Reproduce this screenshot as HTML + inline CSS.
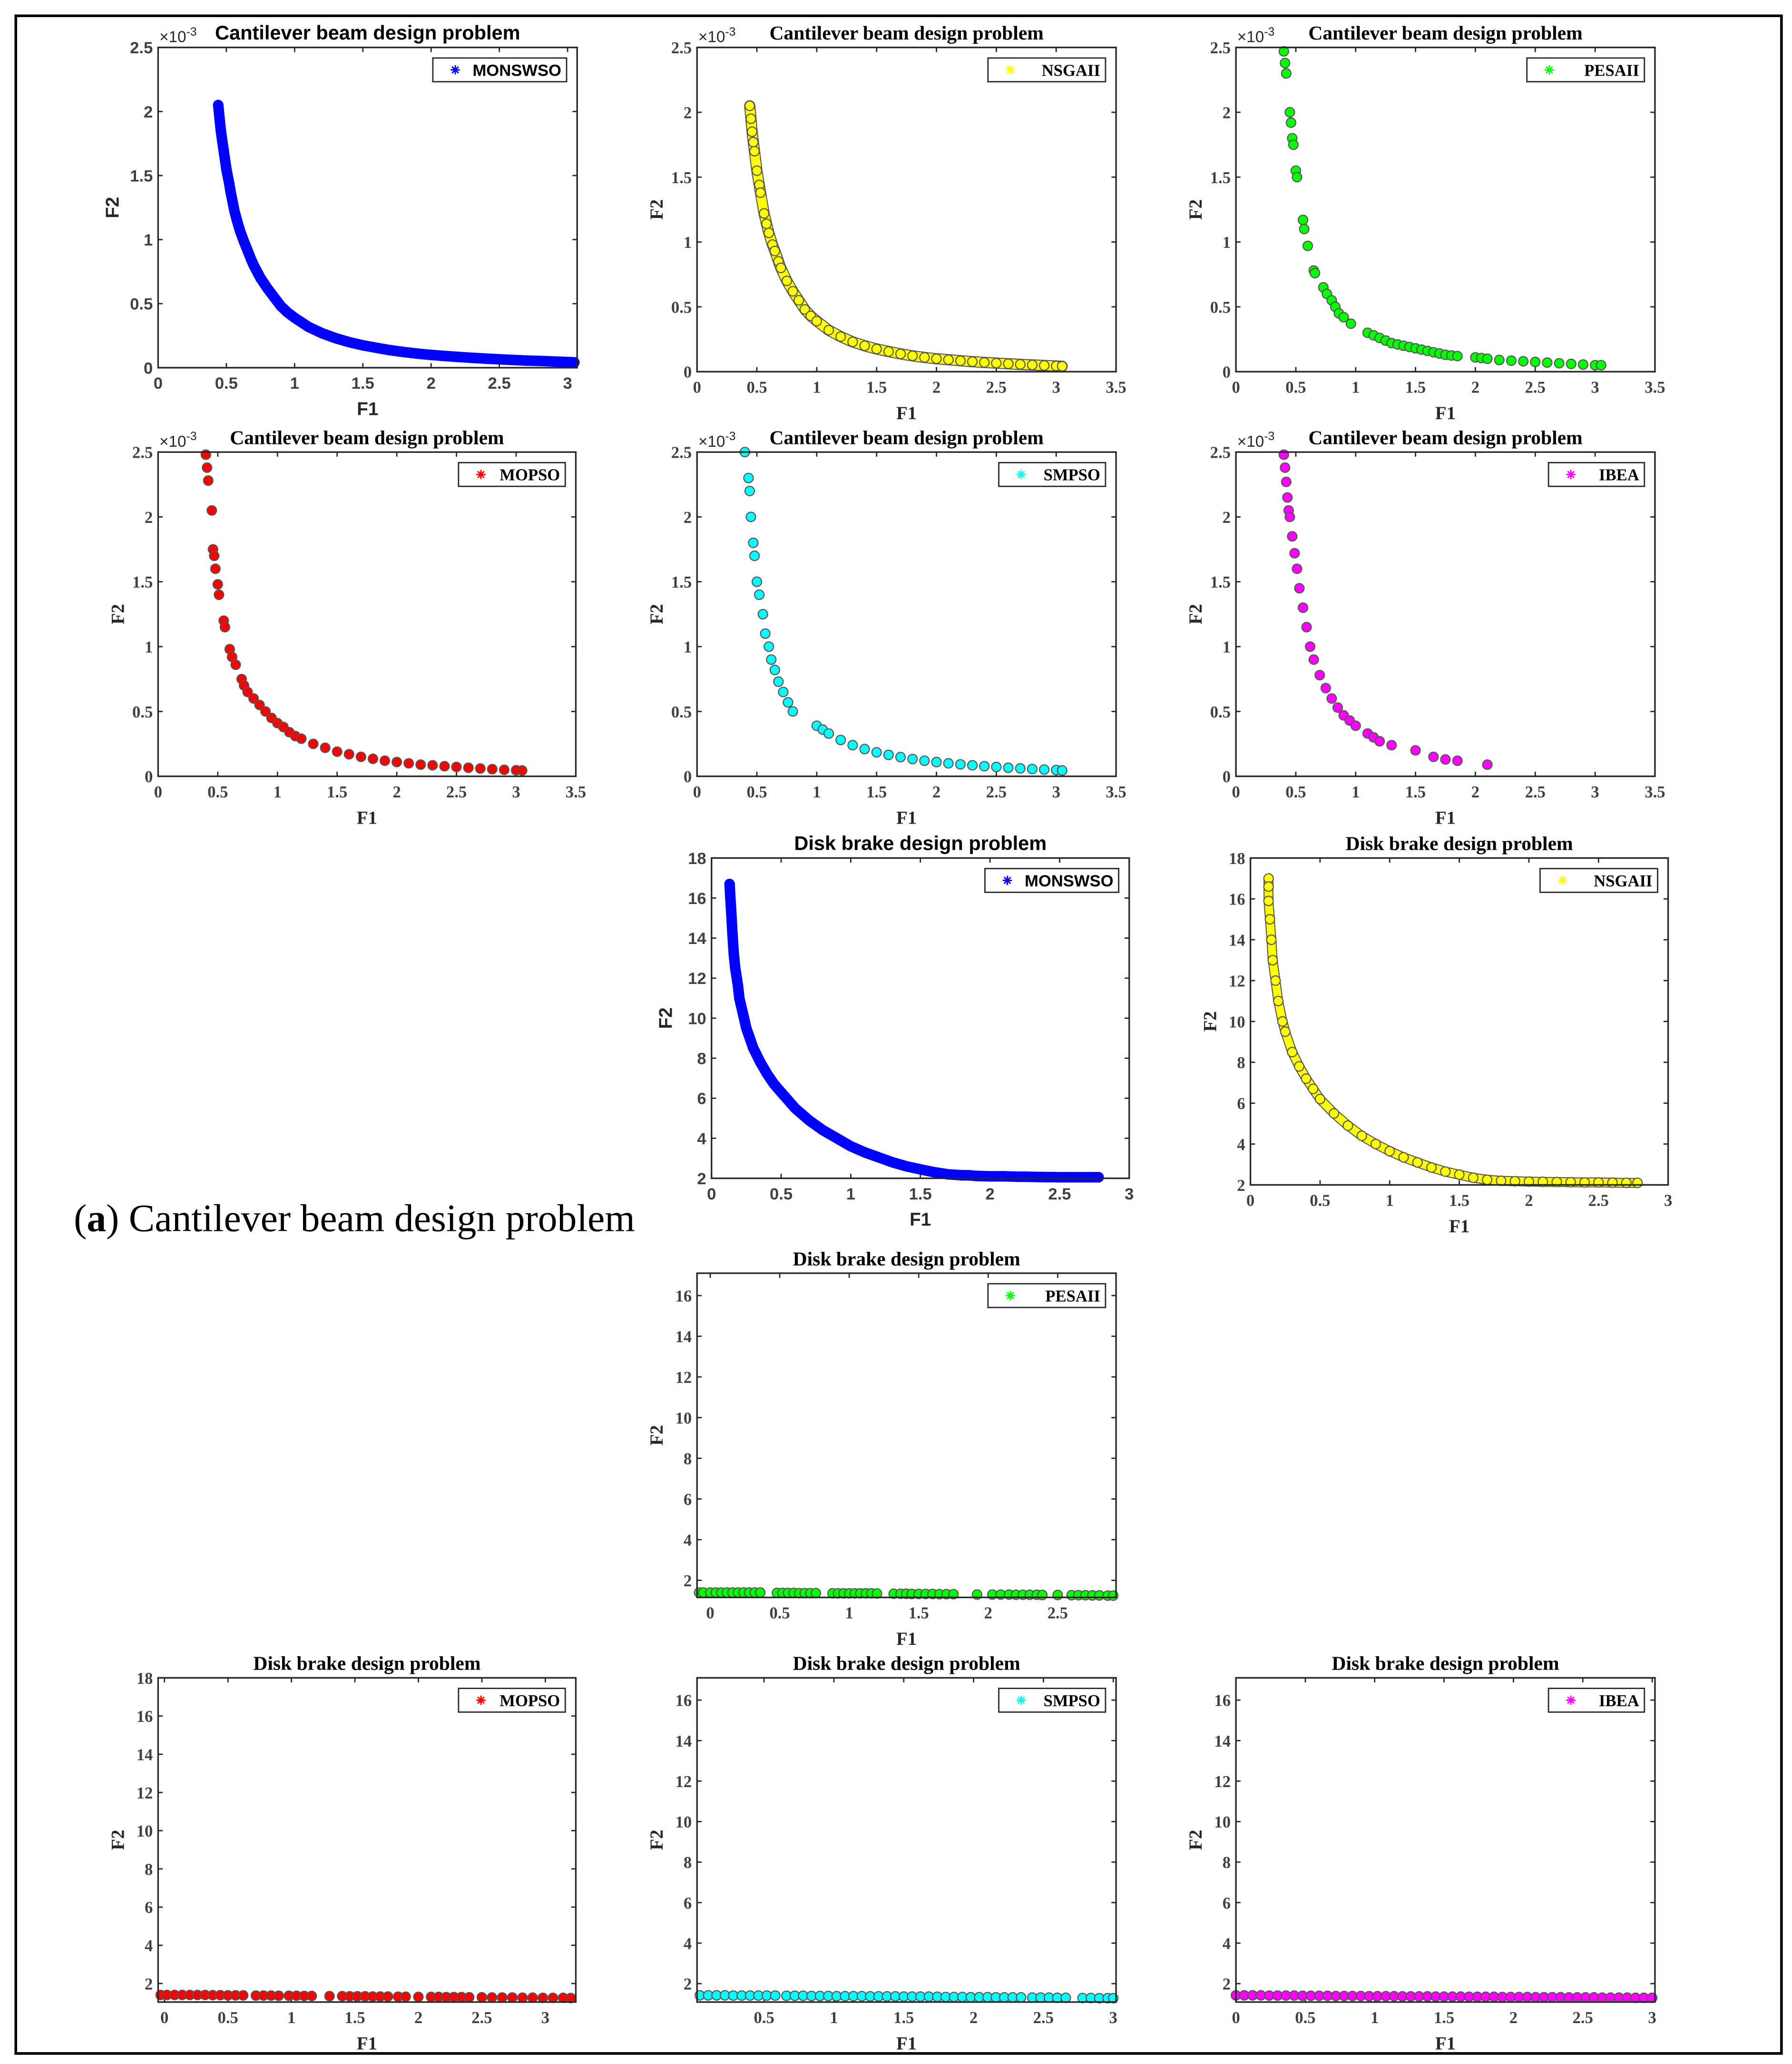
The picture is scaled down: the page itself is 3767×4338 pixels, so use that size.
<!DOCTYPE html>
<html><head><meta charset="utf-8"><style>
html,body{margin:0;padding:0;background:#fff}
svg{display:block}
</style></head><body>
<svg id="fig" width="3767" height="4338" viewBox="0 0 1360 1566" preserveAspectRatio="none" xmlns="http://www.w3.org/2000/svg">
<rect x="0" y="0" width="1360" height="1566" fill="#fff"/>
<rect x="12" y="12" width="1340" height="1546" fill="none" stroke="#000" stroke-width="2"/>
<text x="56" y="934" font-family="'Liberation Serif',serif" font-size="29.5" fill="#000">(<tspan font-weight="bold">a</tspan>) Cantilever beam design problem</text>
<g id="plots"></g>
</svg>
<script>
// ---------- data ----------
const cantF1 = [0.44,0.45,0.46,0.47,0.48,0.5,0.52,0.53,0.56,0.58,0.6,0.63,0.65,0.68,0.7,0.75,0.8,0.85,0.9,0.95,1.0,1.1,1.2,1.3,1.4,1.5,1.6,1.7,1.8,1.9,2.0,2.1,2.2,2.3,2.4,2.5,2.6,2.7,2.8,2.9,3.0,3.05];
const cantF2 = [2.05,1.95,1.85,1.77,1.7,1.55,1.44,1.38,1.22,1.14,1.07,0.98,0.93,0.85,0.8,0.7,0.62,0.55,0.48,0.43,0.39,0.32,0.27,0.23,0.2,0.175,0.155,0.137,0.122,0.11,0.1,0.092,0.084,0.077,0.071,0.066,0.061,0.056,0.052,0.048,0.044,0.042];
const pesaF1 = [0.4,0.41,0.42,0.45,0.46,0.47,0.48,0.5,0.51,0.56,0.57,0.6,0.65,0.66,0.73,0.76,0.8,0.83,0.86,0.9,0.96,1.1,1.15,1.2,1.25,1.3,1.35,1.4,1.45,1.5,1.55,1.6,1.65,1.7,1.75,1.8,1.85,2.0,2.05,2.1,2.2,2.3,2.4,2.5,2.6,2.7,2.8,2.9,3.0,3.05];
const pesaF2 = [2.47,2.38,2.3,2.0,1.92,1.8,1.75,1.55,1.5,1.17,1.1,0.97,0.78,0.76,0.65,0.6,0.55,0.5,0.45,0.42,0.37,0.3,0.28,0.26,0.24,0.22,0.21,0.2,0.19,0.18,0.17,0.16,0.15,0.14,0.13,0.125,0.12,0.11,0.105,0.1,0.09,0.085,0.08,0.075,0.07,0.065,0.06,0.055,0.05,0.05];
const mopsoF1 = [0.4,0.41,0.42,0.45,0.46,0.47,0.48,0.5,0.51,0.55,0.56,0.6,0.62,0.65,0.7,0.72,0.75,0.8,0.85,0.9,0.95,1.0,1.05,1.1,1.15,1.2,1.3,1.4,1.5,1.6,1.7,1.8,1.9,2.0,2.1,2.2,2.3,2.4,2.5,2.6,2.7,2.8,2.9,3.0,3.05];
const mopsoF2 = [2.48,2.38,2.28,2.05,1.75,1.7,1.6,1.48,1.4,1.2,1.15,0.98,0.92,0.86,0.75,0.7,0.65,0.6,0.55,0.5,0.45,0.41,0.38,0.34,0.31,0.29,0.25,0.22,0.19,0.17,0.15,0.135,0.12,0.11,0.1,0.09,0.085,0.078,0.072,0.066,0.06,0.055,0.05,0.047,0.045];
const smpsoF1 = [0.4,0.43,0.44,0.45,0.47,0.48,0.5,0.52,0.55,0.57,0.6,0.62,0.65,0.68,0.72,0.76,0.8,1.0,1.05,1.1,1.2,1.3,1.4,1.5,1.6,1.7,1.8,1.9,2.0,2.1,2.2,2.3,2.4,2.5,2.6,2.7,2.8,2.9,3.0,3.05];
const smpsoF2 = [2.5,2.3,2.2,2.0,1.8,1.7,1.5,1.4,1.25,1.1,1.0,0.9,0.82,0.73,0.65,0.57,0.5,0.39,0.36,0.33,0.28,0.24,0.21,0.185,0.165,0.148,0.133,0.12,0.11,0.1,0.092,0.085,0.078,0.072,0.066,0.061,0.056,0.052,0.048,0.045];
const ibeaF1 = [0.4,0.41,0.42,0.43,0.44,0.45,0.47,0.49,0.51,0.53,0.56,0.59,0.62,0.65,0.7,0.75,0.8,0.85,0.9,0.95,1.0,1.1,1.15,1.2,1.3,1.5,1.65,1.75,1.85,2.1];
const ibeaF2 = [2.48,2.38,2.27,2.15,2.05,2.0,1.85,1.72,1.6,1.45,1.3,1.15,1.0,0.9,0.78,0.68,0.6,0.53,0.47,0.43,0.39,0.33,0.3,0.27,0.24,0.2,0.15,0.13,0.12,0.09];
const diskF1 = [0.13,0.135,0.14,0.15,0.16,0.17,0.19,0.2,0.23,0.25,0.3,0.35,0.4,0.45,0.5,0.6,0.7,0.8,0.9,1.0,1.1,1.2,1.3,1.4,1.5,1.6,1.7,1.8,1.85,1.9,2.0,2.05,2.1,2.2,2.25,2.3,2.4,2.45,2.5,2.55,2.67,2.75,2.78];
const diskF2 = [16.7,16.0,15.5,14.2,13.2,12.5,11.6,11.0,10.1,9.5,8.5,7.8,7.2,6.7,6.3,5.5,4.9,4.4,4.0,3.6,3.3,3.05,2.8,2.6,2.45,2.3,2.2,2.15,2.15,2.12,2.1,2.1,2.1,2.08,2.08,2.07,2.06,2.06,2.05,2.05,2.05,2.05,2.05];
const diskNsgaF1 = [0.13,0.13,0.13,0.14,0.15,0.16,0.18,0.2,0.23,0.25,0.3,0.35,0.4,0.45,0.5,0.6,0.7,0.8,0.9,1.0,1.1,1.2,1.3,1.4,1.5,1.6,1.7,1.8,1.9,2.0,2.1,2.2,2.3,2.4,2.5,2.6,2.7,2.78];
const diskNsgaF2 = [17.0,16.6,15.9,15.0,14.0,13.0,12.0,11.0,10.0,9.5,8.5,7.8,7.2,6.7,6.2,5.5,4.9,4.4,4.0,3.65,3.35,3.1,2.85,2.65,2.5,2.35,2.25,2.2,2.18,2.16,2.15,2.14,2.13,2.12,2.12,2.11,2.1,2.1];
const flatPesaF1 = [-0.08,-0.05,0.0,0.04,0.08,0.12,0.16,0.2,0.24,0.28,0.32,0.36,0.48,0.52,0.56,0.6,0.64,0.68,0.72,0.76,0.88,0.92,0.96,1.0,1.04,1.08,1.12,1.16,1.2,1.32,1.37,1.41,1.45,1.5,1.55,1.6,1.65,1.7,1.75,1.92,2.03,2.09,2.15,2.2,2.25,2.3,2.35,2.39,2.5,2.6,2.65,2.7,2.75,2.8,2.86,2.9];
const flatPesaF2 = [1.4,1.4,1.4,1.4,1.4,1.4,1.4,1.4,1.4,1.4,1.4,1.4,1.38,1.38,1.38,1.38,1.37,1.37,1.37,1.37,1.36,1.36,1.36,1.36,1.36,1.36,1.36,1.36,1.35,1.34,1.34,1.34,1.33,1.33,1.33,1.33,1.32,1.32,1.32,1.3,1.3,1.3,1.3,1.29,1.29,1.29,1.29,1.28,1.28,1.27,1.27,1.27,1.26,1.26,1.25,1.25];
const flatMopsoF1 = [-0.03,0.02,0.08,0.14,0.2,0.26,0.32,0.38,0.44,0.5,0.56,0.62,0.72,0.78,0.84,0.9,0.98,1.04,1.1,1.16,1.3,1.4,1.46,1.52,1.58,1.64,1.7,1.76,1.84,1.9,2.0,2.1,2.16,2.22,2.28,2.34,2.4,2.5,2.58,2.66,2.74,2.82,2.9,2.98,3.06,3.14,3.2];
const flatMopsoF2 = [1.4,1.4,1.4,1.4,1.4,1.4,1.4,1.39,1.39,1.38,1.38,1.38,1.37,1.37,1.37,1.36,1.36,1.36,1.35,1.35,1.34,1.34,1.33,1.33,1.33,1.32,1.32,1.32,1.31,1.31,1.3,1.3,1.3,1.29,1.29,1.29,1.28,1.28,1.27,1.27,1.27,1.26,1.26,1.25,1.25,1.25,1.24];
const flatSmpsoF1 = [0.04,0.1,0.16,0.22,0.28,0.34,0.4,0.46,0.52,0.58,0.66,0.72,0.78,0.84,0.9,0.96,1.02,1.08,1.14,1.2,1.26,1.32,1.38,1.44,1.5,1.56,1.62,1.68,1.74,1.8,1.86,1.92,1.98,2.04,2.1,2.16,2.22,2.28,2.34,2.42,2.48,2.54,2.6,2.66,2.78,2.84,2.9,2.96,3.0];
const flatSmpsoF2 = [1.42,1.42,1.42,1.42,1.41,1.41,1.41,1.41,1.41,1.41,1.4,1.4,1.4,1.39,1.39,1.39,1.38,1.38,1.38,1.38,1.37,1.37,1.37,1.37,1.36,1.36,1.36,1.36,1.35,1.34,1.34,1.34,1.33,1.33,1.33,1.32,1.32,1.32,1.32,1.31,1.31,1.31,1.3,1.3,1.29,1.29,1.28,1.28,1.28];
const flatIbeaF1 = [0.0,0.06,0.12,0.18,0.24,0.3,0.36,0.42,0.48,0.54,0.6,0.66,0.72,0.78,0.84,0.9,0.96,1.02,1.08,1.14,1.2,1.26,1.32,1.38,1.44,1.5,1.56,1.62,1.68,1.74,1.8,1.86,1.92,1.98,2.04,2.1,2.16,2.22,2.28,2.34,2.4,2.46,2.52,2.58,2.64,2.7,2.76,2.82,2.88,2.94,3.0];
const flatIbeaF2 = [1.42,1.42,1.42,1.42,1.41,1.41,1.41,1.41,1.4,1.4,1.4,1.4,1.39,1.39,1.39,1.39,1.38,1.38,1.38,1.38,1.37,1.37,1.37,1.37,1.36,1.36,1.36,1.36,1.35,1.35,1.35,1.35,1.34,1.34,1.34,1.34,1.33,1.33,1.33,1.33,1.32,1.32,1.32,1.32,1.31,1.31,1.31,1.31,1.3,1.3,1.3];
const cantXTicks = [0,0.5,1,1.5,2,2.5,3,3.5];
const cantYTicks = [0,0.5,1,1.5,2,2.5];
const diskXTicks = [0,0.5,1,1.5,2,2.5,3];
const diskYTicks18 = [2,4,6,8,10,12,14,16,18];
const diskYTicks16 = [2,4,6,8,10,12,14,16];

// ---------- layout ----------
const SANS="'Liberation Sans',Arial,sans-serif", SERIF="'Liberation Serif',serif";
const T_C="Cantilever beam design problem", T_D="Disk brake design problem";
const panels = [
 {id:'cant-monswso',b:[120,36,438,279],xl:[0,3.07],yl:[0,2.5],xt:[0,0.5,1,1.5,2,2.5,3],yt:cantYTicks,f:SANS,t:T_C,name:'MONSWSO',c:'#0000ff',x:cantF1,y:cantF2,star:true,exp:true,band:8},
 {id:'cant-nsgaii',b:[529,36,847,282],xl:[0,3.5],yl:[0,2.5],xt:cantXTicks,yt:cantYTicks,f:SERIF,t:T_C,name:'NSGAII',c:'#ffff00',x:cantF1,y:cantF2,exp:true,band:7},
 {id:'cant-pesaii',b:[938,36,1256,282],xl:[0,3.5],yl:[0,2.5],xt:cantXTicks,yt:cantYTicks,f:SERIF,t:T_C,name:'PESAII',c:'#00ff00',x:pesaF1,y:pesaF2,exp:true},
 {id:'cant-mopso',b:[120,343,437,589],xl:[0,3.5],yl:[0,2.5],xt:cantXTicks,yt:cantYTicks,f:SERIF,t:T_C,name:'MOPSO',c:'#ff0000',x:mopsoF1,y:mopsoF2,exp:true},
 {id:'cant-smpso',b:[529,343,847,589],xl:[0,3.5],yl:[0,2.5],xt:cantXTicks,yt:cantYTicks,f:SERIF,t:T_C,name:'SMPSO',c:'#00ffff',x:smpsoF1,y:smpsoF2,exp:true},
 {id:'cant-ibea',b:[938,343,1256,589],xl:[0,3.5],yl:[0,2.5],xt:cantXTicks,yt:cantYTicks,f:SERIF,t:T_C,name:'IBEA',c:'#ff00ff',x:ibeaF1,y:ibeaF2,exp:true},
 {id:'disk-monswso',b:[540,651,857,894],xl:[0,3],yl:[2,18],xt:diskXTicks,yt:diskYTicks18,f:SANS,t:T_D,name:'MONSWSO',c:'#0000ff',x:diskF1,y:diskF2,star:true,band:8},
 {id:'disk-nsgaii',b:[949,651,1266,899],xl:[0,3],yl:[2,18],xt:diskXTicks,yt:diskYTicks18,f:SERIF,t:T_D,name:'NSGAII',c:'#ffff00',x:diskNsgaF1,y:diskNsgaF2,band:6},
 {id:'disk-pesaii',b:[529,966,847,1212],xl:[-0.095,2.92],yl:[1.16,17.1],xt:[0,0.5,1,1.5,2,2.5],yt:diskYTicks16,f:SERIF,t:T_D,name:'PESAII',c:'#00ff00',x:flatPesaF1,y:flatPesaF2},
 {id:'disk-mopso',b:[120,1273,437,1519],xl:[-0.05,3.24],yl:[1.03,18],xt:diskXTicks,yt:diskYTicks18,f:SERIF,t:T_D,name:'MOPSO',c:'#ff0000',x:flatMopsoF1,y:flatMopsoF2},
 {id:'disk-smpso',b:[529,1273,847,1519],xl:[0.02,3.02],yl:[1.09,17.1],xt:[0.5,1,1.5,2,2.5,3],yt:diskYTicks16,f:SERIF,t:T_D,name:'SMPSO',c:'#00ffff',x:flatSmpsoF1,y:flatSmpsoF2},
 {id:'disk-ibea',b:[938,1273,1256,1519],xl:[0,3.02],yl:[1.09,17.1],xt:diskXTicks,yt:diskYTicks16,f:SERIF,t:T_D,name:'IBEA',c:'#ff00ff',x:flatIbeaF1,y:flatIbeaF2}
];
const NS="http://www.w3.org/2000/svg";
const root=document.getElementById('plots');
function mk(tag,attrs,parent){const e=document.createElementNS(NS,tag);for(const k in attrs)e.setAttribute(k,attrs[k]);parent.appendChild(e);return e;}
function fmt(v){return String(v);}
function star(g,x,y,r,c,w){
  const s=mk('path',{d:`M${x-r},${y}H${x+r}M${x},${y-r}V${y+r}M${x-r*0.7},${y-r*0.7}L${x+r*0.7},${y+r*0.7}M${x-r*0.7},${y+r*0.7}L${x+r*0.7},${y-r*0.7}`,stroke:c,'stroke-width':w,fill:'none'},g);
  return s;
}
panels.forEach(p=>{
  const [x0,y0,x1,y1]=p.b;
  const sx=v=>x0+(v-p.xl[0])/(p.xl[1]-p.xl[0])*(x1-x0);
  const sy=v=>y1-(v-p.yl[0])/(p.yl[1]-p.yl[0])*(y1-y0);
  const g=mk('g',{},root);
  
  
  // title
  const tt=mk('text',{x:(x0+x1)/2+(p.exp&&p.f===SANS?0:0),y:y0-6,'text-anchor':'middle','font-family':p.f,'font-weight':'bold','font-size':15,fill:'#000'},g);
  tt.textContent=p.t;
  
  
  if(p.exp){
    const ex=mk('text',{x:x0+1,y:y0-4,'font-family':SANS,'font-size':12,fill:'#262626'},g);
    ex.innerHTML='×10<tspan dy="-5" font-size="9">-3</tspan>';
    
    
  }
  // ticks
  const tickG=mk('g',{stroke:'#262626','stroke-width':1},g);
  p.xt.forEach(v=>{
    const X=sx(v);
    mk('line',{x1:X,y1:y1,x2:X,y2:y1-3.5},tickG);
    mk('line',{x1:X,y1:y0,x2:X,y2:y0+3.5},tickG);
    const t=mk('text',{x:X,y:y1+16,'text-anchor':'middle','font-family':p.f,'font-weight':'bold','font-size':12.5,fill:'#404040',stroke:'none'},g);
    t.textContent=fmt(v);
    
    
  });
  p.yt.forEach(v=>{
    const Y=sy(v);
    mk('line',{x1:x0,y1:Y,x2:x0+3.5,y2:Y},tickG);
    mk('line',{x1:x1,y1:Y,x2:x1-3.5,y2:Y},tickG);
    const t=mk('text',{x:x0-4,y:Y+4.5,'text-anchor':'end','font-family':p.f,'font-weight':'bold','font-size':12.5,fill:'#404040',stroke:'none'},g);
    t.textContent=fmt(v);
    
    
  });
  // axis labels
  const xlab=mk('text',{x:(x0+x1)/2,y:y1+36,'text-anchor':'middle','font-family':p.f,'font-weight':'bold','font-size':14,fill:'#262626'},g);
  xlab.textContent='F1';
  
  
  const yX=x0-(p.f===SANS?30:26), yY=(y0+y1)/2;
  const ylab=mk('text',{x:yX,y:yY,'text-anchor':'middle','font-family':p.f,'font-weight':'bold','font-size':14,fill:'#262626',transform:`rotate(-90 ${yX} ${yY})`},g);
  ylab.textContent='F2';
  
  
  // data
  const clip='clip-'+p.id;
  const cp=mk('clipPath',{id:clip},g);
  mk('rect',{x:x0-6,y:y0-4,width:x1-x0+12,height:y1-y0+8},cp);
  const dg=mk('g',{'clip-path':`url(#${clip})`},g);
  
  
  const pts=p.x.map((v,i)=>sx(v).toFixed(1)+','+sy(p.y[i]).toFixed(1)).join(' ');
  if(p.band){
    if(!p.star) mk('polyline',{points:pts,fill:'none',stroke:'#555','stroke-width':p.band+1.5,'stroke-linejoin':'round','stroke-linecap':'round'},dg);
    mk('polyline',{points:pts,fill:'none',stroke:p.c,'stroke-width':p.band,'stroke-linejoin':'round','stroke-linecap':'round'},dg);
  }
  p.x.forEach((v,i)=>{
    const X=sx(v),Y=sy(p.y[i]);
    let m;
    if(p.star){ m=star(dg,X,Y,4,p.c,1.2); }
    else { m=mk('circle',{cx:X,cy:Y,r:3.6,fill:p.c,stroke:'#555','stroke-width':0.8},dg); }
    
    
  });
  // axes box
  const box=mk('rect',{x:x0,y:y0,width:x1-x0,height:y1-y0,fill:'none',stroke:'#262626','stroke-width':1.2},g);
  
  
  // legend
  const lw=p.f===SANS?(p.name.length*8.5+42):(p.name.length*8.2+40), lh=18;
  const lx=x1-8-lw, ly=y0+8;
  const lg=mk('g',{},g);
  
  
  mk('rect',{x:lx,y:ly,width:lw,height:lh,fill:'#fff',stroke:'#262626','stroke-width':1},lg);
  star(lg,lx+17,ly+lh/2,3.5,p.c,1.1);
  const lt=mk('text',{x:lx+lw-4,y:ly+lh/2+4.5,'text-anchor':'end','font-family':p.f,'font-weight':'bold','font-size':12.5,fill:'#000'},lg);
  lt.textContent=p.name;
});
</script>
</body></html>
